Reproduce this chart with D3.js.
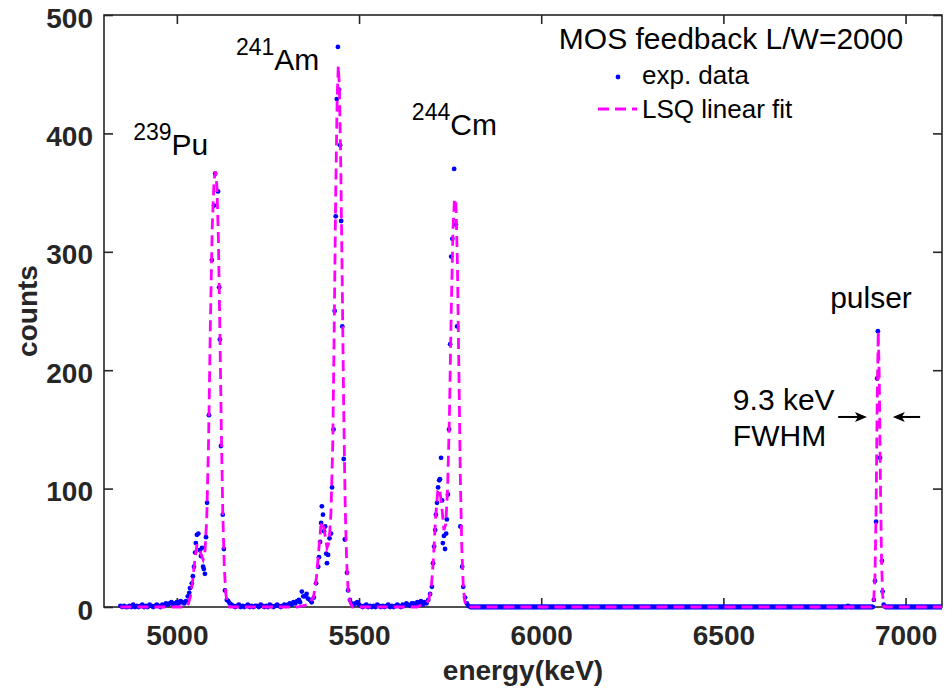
<!DOCTYPE html>
<html lang="en">
<head>
  <meta charset="utf-8">
  <title>MOS feedback L/W=2000</title>
  <script src="https://d3js.org/d3.v7.min.js"></script>
  <style>
    body { margin: 0; background: #fff; }
    text { font-family: "Liberation Sans", Arial, Helvetica, sans-serif; }
    .tick text { font-size: 28px; font-weight: bold; fill: #262626; }
    .tick line { stroke: #262626; stroke-width: 1.6; }
    .axis-title { font-size: 28px; font-weight: bold; fill: #262626; }
    .note { font-size: 30px; fill: #000; }
    .legend { fill: #000; }
  </style>
</head>
<body>
<div id="container"></div>
<script>
  // ---- data ----
  // low-count baseline stretches, one value every lowStep keV
  var lowStep = 5;
  var lowAStart = 4845;
  var lowA = [1,0,1,0,0,1,0,2,0,1,0,1,2,0,1,0,2,1,0,1,2,1,0,2,1,3,2,3,4,2,3,4,3,5,4,3,5];
  var lowBStart = 5145;
  var lowB = [3,2,1,0,1,2,0,1,0,1,2,0,1,0,1,1,0,2,1,0,1,0,2,1,0,1,2,1,0,1,2,1,2,3,2,4,3,5,6];
  var lowCStart = 5490;
  var lowC = [3,4,2,1,0,1,2,0,1,0,1,0,2,1,0,1,0,1,2,0,1,0,1,2,1,0,2,1,3,2,1,3];

  // empty channels (counts = 0), [from, to] in keV
  var zeroStep = 2.5;
  var zeroRuns = [[5805, 6840], [6845, 6910], [6945, 7100]];

  // peaks: energy (keV) and counts
  var puE = [5030,5034,5036,5041,5044,5047,5050,5052,5055,5059,5063,5066,5069,5072,5074,5077,5080,5083,5088,5096,5102,5105,5113,5116,5118,5121,5126,5129,5132,5137,5141];
  var puC = [9,12,16,20,26,34,46,54,61,62,48,43,50,34,32,28,59,88,162,293,339,366,351,270,226,136,78,49,14,6,5];

  var amE = [5338,5343,5347,5352,5356,5360,5365,5370,5376,5382,5388,5390,5393,5396,5398,5401,5404,5407,5410,5412,5415,5419,5423,5426,5430,5433,5436,5439,5442,5445,5448,5451,5454,5458,5461,5467,5470,5475,5480,5485];
  var amC = [4,13,9,9,11,7,6,4,8,20,34,42,55,71,85,78,64,68,45,37,44,58,62,101,150,250,330,429,473,437,390,326,237,125,57,29,14,6,3,2];

  var cmE = [5650,5655,5660,5665,5670,5675,5680,5685,5690,5695,5700,5703,5706,5709,5711,5714,5717,5720,5722,5725,5728,5730,5733,5736,5739,5741,5744,5747,5750,5753,5756,5761,5766,5769,5778,5783,5786,5791,5796,5800];
  var cmC = [3,2,4,3,5,2,4,3,6,11,17,37,51,65,78,88,101,107,108,126,90,54,60,49,62,74,95,150,222,296,311,370,323,237,68,34,17,8,3,1];

  var pulserE = [6842,6913,6916,6919,6922,6924,6930,6935,6937,6940];
  var pulserC = [1,6,22,72,193,233,126,39,13,2];

  // least squares fit curve
  var fitE = [4845,5025,5032,5038,5044,5050,5055,5060,5066,5072,5077,5082,5087,5092,5097,5102,5106,5110,5114,5118,5122,5126,5130,5134,5138,5145,
              5330,5360,5375,5383,5390,5395,5400,5406,5412,5418,5423,5428,5432,5436,5440,5443,5446,5450,5454,5458,5462,5466,5470,5475,5482,
              5660,5690,5698,5704,5710,5716,5721,5727,5733,5738,5743,5748,5753,5758,5762,5766,5770,5774,5778,5782,5786,5790,5796,
              6905,6912,6916,6919,6922,6925,6928,6931,6934,6937,6941,7100];
  var fitC = [0,0,3,10,24,42,52,52,45,40,46,75,140,240,320,360,368,355,310,235,150,80,35,12,4,0,
              0,2,8,25,50,68,72,62,50,55,80,140,240,350,430,457,440,370,270,165,85,38,14,4,0,
              0,5,15,40,75,98,100,85,65,70,100,160,250,320,345,340,290,200,110,50,18,5,0,
              0,3,25,80,170,233,190,105,40,10,0,0];

  var xTicks = [5000, 5500, 6000, 6500, 7000];
  var yTicks = [0, 100, 200, 300, 400, 500];

  // ---- layout ----
  var w = 945, h = 688;
  var pL = 104, pR = 942, pT = 15, pB = 607;

  var svg = d3.select("#container").append("svg")
    .attr("width", w).attr("height", h);

  var x = d3.scaleLinear().domain([4800, 7100]).range([pL, pR]);
  var y = d3.scaleLinear().domain([0, 500]).range([pB, pT]);

  // collect exp. data points
  var pts = [];
  function addLow(start, arr) {
    arr.forEach(function(c, i) { pts.push([start + i * lowStep, c]); });
  }
  addLow(lowAStart, lowA);
  addLow(lowBStart, lowB);
  addLow(lowCStart, lowC);
  zeroRuns.forEach(function(r) {
    d3.range(r[0], r[1] + 0.01, zeroStep).forEach(function(e) { pts.push([e, 0]); });
  });
  [[puE, puC], [amE, amC], [cmE, cmC], [pulserE, pulserC]].forEach(function(p) {
    p[0].forEach(function(e, i) { pts.push([e, p[1][i]]); });
  });

  // axes (ticks inward on all four sides)
  svg.append("g").attr("transform", "translate(0," + pB + ")")
    .call(d3.axisBottom(x).tickValues(xTicks).tickFormat(d3.format("d"))
      .tickSizeInner(-9).tickSizeOuter(0).tickPadding(18));
  var gy = svg.append("g").attr("transform", "translate(" + pL + ",0)")
    .call(d3.axisLeft(y).tickValues(yTicks).tickSizeInner(-9).tickSizeOuter(0).tickPadding(11));
  gy.selectAll("text").attr("dy", "0.43em");
  svg.append("g").attr("transform", "translate(0," + pT + ")")
    .call(d3.axisTop(x).tickValues(xTicks).tickSizeInner(-9).tickSizeOuter(0).tickFormat(""));
  svg.append("g").attr("transform", "translate(" + pR + ",0)")
    .call(d3.axisRight(y).tickValues(yTicks).tickSizeInner(-9).tickSizeOuter(0).tickFormat(""));
  svg.selectAll(".domain").remove();

  svg.append("rect")
    .attr("x", pL).attr("y", pT)
    .attr("width", pR - pL).attr("height", pB - pT)
    .attr("fill", "none").attr("stroke", "#262626").attr("stroke-width", 1.6);

  svg.append("text").attr("class", "axis-title")
    .attr("transform", "translate(37," + ((pT + pB) / 2) + ") rotate(-90)")
    .attr("text-anchor", "middle").text("counts");
  svg.append("text").attr("class", "axis-title")
    .attr("x", (pL + pR) / 2).attr("y", 680)
    .attr("text-anchor", "middle").text("energy(keV)");

  // data
  svg.append("clipPath").attr("id", "clip").append("rect")
    .attr("x", pL).attr("y", pT - 5).attr("width", pR - pL).attr("height", pB - pT + 10);

  var plot = svg.append("g").attr("clip-path", "url(#clip)");

  plot.selectAll("circle")
    .data(pts)
    .enter()
    .append("circle")
    .attr("cx", function(d) { return x(d[0]); })
    .attr("cy", function(d) { return y(d[1]); })
    .attr("r", 2.4)
    .attr("fill", "#0000ff");

  var line = d3.line()
    .x(function(d) { return x(d[0]); })
    .y(function(d) { return y(d[1]); });

  plot.append("path")
    .datum(fitE.map(function(e, i) { return [e, fitC[i]]; }))
    .attr("d", line)
    .attr("fill", "none")
    .attr("stroke", "#ff00ff")
    .attr("stroke-width", 2.8)
    .attr("stroke-dasharray", "11,6");

  // peak labels
  var notes = [
    { e: 4880, c: 382, sup: "239", main: "Pu" },
    { e: 5162, c: 453.5, sup: "241", main: "Am" },
    { e: 5645, c: 398.6, sup: "244", main: "Cm" }
  ];
  notes.forEach(function(n) {
    var t = svg.append("text").attr("class", "note")
      .attr("x", x(n.e)).attr("y", y(n.c));
    t.append("tspan").attr("font-size", 23).attr("dy", -15).text(n.sup);
    t.append("tspan").attr("dy", 15).text(n.main);
  });

  svg.append("text").attr("class", "note").attr("x", x(6793)).attr("y", y(252.5)).text("pulser");
  svg.append("text").attr("class", "note").attr("x", x(6526)).attr("y", y(166.4)).text("9.3 keV");
  svg.append("text").attr("class", "note").attr("x", x(6526)).attr("y", y(136)).text("FWHM");

  // FWHM arrows
  function arrow(x1, x2, yy) {
    var dir = x2 > x1 ? 1 : -1;
    svg.append("line")
      .attr("x1", x1).attr("y1", yy).attr("x2", x2 - dir * 6).attr("y2", yy)
      .attr("stroke", "#000").attr("stroke-width", 2);
    svg.append("path")
      .attr("d", "M" + x2 + "," + yy +
                 "L" + (x2 - dir * 12) + "," + (yy - 5) +
                 "L" + (x2 - dir * 9) + "," + yy +
                 "L" + (x2 - dir * 12) + "," + (yy + 5) + "Z")
      .attr("fill", "#000");
  }
  var arrowY = y(160.5);
  arrow(x(6815), x(6894), arrowY);
  arrow(x(7040), x(6965), arrowY);

  // legend
  var lg = svg.append("g").attr("class", "legend");
  lg.append("text").attr("x", 731).attr("y", 49).attr("text-anchor", "middle")
    .attr("font-size", 30).text("MOS feedback L/W=2000");
  lg.append("circle").attr("cx", 618).attr("cy", 77).attr("r", 2.4).attr("fill", "#0000ff");
  lg.append("text").attr("x", 642).attr("y", 84).attr("font-size", 26).text("exp. data");
  lg.append("line").attr("x1", 598).attr("x2", 637).attr("y1", 109).attr("y2", 109)
    .attr("stroke", "#ff00ff").attr("stroke-width", 2.8).attr("stroke-dasharray", "11,6");
  lg.append("text").attr("x", 642).attr("y", 118).attr("font-size", 26).text("LSQ linear fit");
</script>
</body>
</html>
